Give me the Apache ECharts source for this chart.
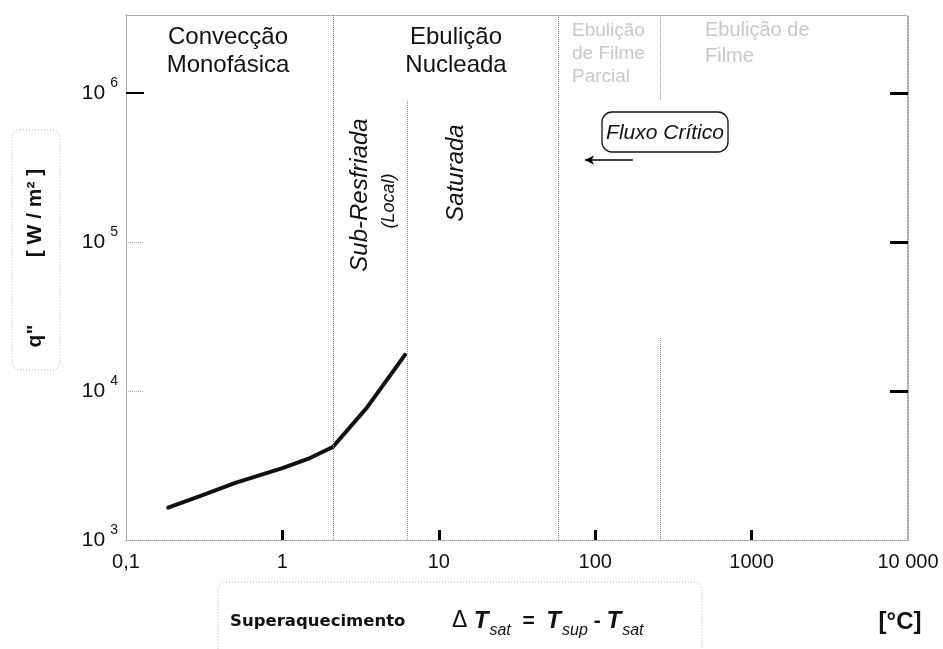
<!DOCTYPE html>
<html><head><meta charset="utf-8">
<script src="https://cdn.jsdelivr.net/npm/echarts@6/dist/echarts.min.js"></script>
<style>html,body{margin:0;padding:0;background:#fff}#c{width:943px;height:649px}</style>
</head><body><div id="c"></div>
<script>
// ---- data ----
const superheat = [0.186, 0.3, 0.5, 1, 1.5, 2.1, 3.46, 6.08];       // ΔTsat [°C]
const heatFlux  = [1650, 1980, 2420, 3040, 3550, 4210, 7700, 17470]; // q'' [W/m²]
const xTickValues = [0.1, 1, 10, 100, 1000, 10000];
const xTickLabels = ['0,1', '1', '10', '100', '1000', '10 000'];
const yTickValues = [1e3, 1e4, 1e5, 1e6];
const regimeBounds = [2.107, 6.24, 57.8, 259];
const xMin = 0.1, xMax = 10000, yMin = 1000, yMax = 3.34e6;
const criticalArrow = [[174, 3.55e5], [86, 3.55e5]];

const FONT = '"Liberation Sans", Arial, sans-serif';
const chart = echarts.init(document.getElementById('c'), null, {renderer: 'canvas'});

const dotted = {type: 'dotted', color: '#9a9a9a', width: 1};
const lineData = superheat.map((x, i) => [x, heatFlux[i]]);

const boundaryLines = [
  [{coord: [regimeBounds[0], yMin]}, {coord: [regimeBounds[0], yMax]}],
  [{coord: [regimeBounds[1], yMin]}, {coord: [regimeBounds[1], 9e5]}],
  [{coord: [regimeBounds[2], yMin]}, {coord: [regimeBounds[2], yMax]}],
  [{coord: [regimeBounds[3], 2.27e4]}, {coord: [regimeBounds[3], yMin]}],
  [{coord: [regimeBounds[3], 9e5]}, {coord: [regimeBounds[3], yMax]}]
];
const arrowLine = [
  {coord: criticalArrow[0], symbol: 'none', lineStyle: {type: 'solid', color: '#000', width: 1.5}},
  {coord: criticalArrow[1], symbol: 'arrow', symbolSize: [7, 9]}
];

function rotText(x, y, text, font, fill) {
  return {type: 'text', x: x, y: y, rotation: Math.PI / 2, silent: true,
    style: {text: text, font: font, fill: fill || '#111', align: 'center', verticalAlign: 'middle'}};
}
function txt(x, y, text, font, fill, align) {
  return {type: 'text', x: x, y: y, silent: true,
    style: {text: text, font: font, fill: fill || '#111', align: align || 'center', verticalAlign: 'middle', lineHeight: 28}};
}

const option = {
  animation: false,
  backgroundColor: '#fff',
  grid: {left: 126, right: 35, top: 15, bottom: 109, containLabel: false},
  xAxis: [{
    type: 'log', logBase: 10, min: xMin, max: xMax,
    axisLine: {show: true, lineStyle: dotted},
    axisTick: {show: true, inside: true, length: 10, customValues: xTickValues.slice(1, 5),
      lineStyle: {color: '#000', width: 3}},
    axisLabel: {show: true, customValues: xTickValues, margin: 12,
      fontFamily: FONT, fontSize: 20, color: '#111',
      formatter: v => { const i = xTickValues.findIndex(t => Math.abs(Math.log10(t) - Math.log10(v)) < 1e-6); return i >= 0 ? xTickLabels[i] : ''; }},
    splitLine: {show: false}, minorTick: {show: false}, minorSplitLine: {show: false}
  }, {
    type: 'log', logBase: 10, min: xMin, max: xMax, position: 'top',
    axisLine: {show: true, lineStyle: dotted},
    axisTick: {show: false}, axisLabel: {show: false}, splitLine: {show: false}
  }],
  yAxis: [{
    type: 'log', logBase: 10, min: yMin, max: yMax, position: 'left',
    axisLine: {show: true, lineStyle: dotted},
    axisTick: {show: true, inside: true, length: 18, customValues: [1e6], lineStyle: {color: '#000', width: 2}},
    axisLabel: {show: true, customValues: yTickValues, margin: 8,
      formatter: v => '{b|10}{s|' + Math.round(Math.log10(v)) + '}',
      rich: {b: {fontFamily: FONT, fontSize: 21, color: '#111'},
             s: {fontFamily: FONT, fontSize: 14, color: '#111', padding: [0, 0, 20, 5]}}},
    splitLine: {show: false}
  }, {
    type: 'log', logBase: 10, min: yMin, max: yMax, position: 'right',
    axisLine: {show: true, lineStyle: {type: 'dotted', color: '#888', width: 1.5}},
    axisTick: {show: true, inside: true, length: 18, customValues: [1e4, 1e5, 1e6], lineStyle: {color: '#000', width: 3}},
    axisLabel: {show: false}, splitLine: {show: false}
  }, {
    type: 'log', logBase: 10, min: yMin, max: yMax, position: 'left',
    axisLine: {show: false},
    axisTick: {show: true, inside: true, length: 18, customValues: [1e4, 1e5], lineStyle: {color: '#aaa', width: 1, type: 'dotted'}},
    axisLabel: {show: false}, splitLine: {show: false}
  }],
  series: [{
    type: 'line', xAxisIndex: 0, yAxisIndex: 0,
    data: lineData, showSymbol: false, symbol: 'none', smooth: false,
    lineStyle: {color: '#111', width: 4, cap: 'round', join: 'round'},
    markLine: {
      silent: true, symbol: ['none', 'none'], label: {show: false},
      lineStyle: {type: 'dotted', color: '#8c8c8c', width: 1},
      emphasis: {disabled: true},
      data: boundaryLines.concat([arrowLine])
    }
  }],
  graphic: [
    txt(228, 51, 'Convecção\nMonofásica', '24px ' + FONT),
    txt(456, 51, 'Ebulição\nNucleada', '24px ' + FONT),
    {type: 'text', x: 572, y: 54, silent: true,
      style: {text: 'Ebulição\nde Filme\nParcial', font: '19px ' + FONT, fill: '#c8c8c8', align: 'left', verticalAlign: 'middle', lineHeight: 23}},
    {type: 'text', x: 705, y: 43, silent: true,
      style: {text: 'Ebulição de\nFilme', font: '20px ' + FONT, fill: '#c8c8c8', align: 'left', verticalAlign: 'middle', lineHeight: 26}},
    rotText(360, 195, 'Sub-Resfriada', 'italic 24px ' + FONT),
    rotText(389, 201, '(Local)', 'italic 18px ' + FONT),
    rotText(456, 173, 'Saturada', 'italic 24px ' + FONT),
    {type: 'rect', shape: {x: 602, y: 112, width: 126, height: 40, r: 10}, silent: true,
      style: {fill: 'none', stroke: '#111', lineWidth: 1.3}},
    txt(665, 133, 'Fluxo Crítico', 'italic 21px ' + FONT),
    // y-axis title
    {type: 'rect', shape: {x: 12, y: 130, width: 48, height: 240, r: 8}, silent: true,
      style: {fill: 'none', stroke: '#b0b0b0', lineWidth: 1, lineDash: [1, 2]}},
    rotText(35, 213, '[ W / m² ]', 'bold 21px ' + FONT),
    rotText(35, 336, 'q"', 'bold 21px ' + FONT),
    // x-axis title
    {type: 'rect', shape: {x: 218, y: 582, width: 484, height: 90, r: 8}, silent: true,
      style: {fill: 'none', stroke: '#b0b0b0', lineWidth: 1, lineDash: [1, 2]}},
    {type: 'text', x: 230, y: 622, silent: true,
      style: {text: 'Superaquecimento', font: 'bold 16.5px "DejaVu Sans", Verdana, sans-serif', fill: '#111', align: 'left', verticalAlign: 'middle'}},
    {type: 'text', x: 452, y: 621, silent: true,
      style: {text: '{d|Δ }{t|T}{u|sat}{e|  =  }{t|T}{u|sup}{e| - }{t|T}{u|sat}',
        align: 'left', verticalAlign: 'middle',
        rich: {
          d: {font: '23px ' + FONT, fill: '#111'},
          t: {font: 'bold italic 24px ' + FONT, fill: '#111'},
          u: {font: 'italic 16px ' + FONT, fill: '#111', padding: [20, 0, 0, 1]},
          e: {font: 'bold 21px ' + FONT, fill: '#111'}
        }}},
    txt(900, 622, '[°C]', 'bold 24px ' + FONT)
  ]
};
chart.setOption(option);
</script>
</body></html>
